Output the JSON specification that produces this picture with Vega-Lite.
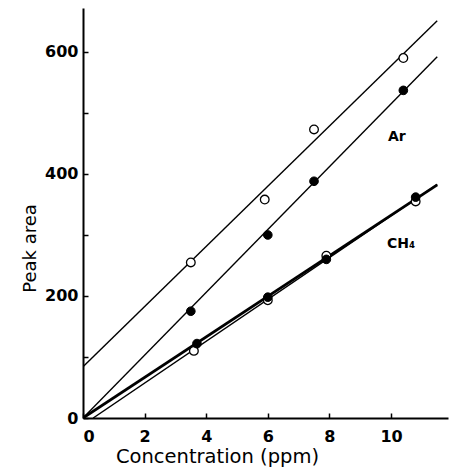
{
  "$schema": "https://vega.github.io/schema/vega-lite/v6.json",
  "width": 365,
  "height": 410,
  "autosize": {"type": "none"},
  "padding": {"left": 83, "top": 8, "right": 1, "bottom": 55},
  "background": "white",
  "config": {
    "view": {"stroke": null},
    "font": "DejaVu Sans",
    "axis": {
      "domainColor": "black",
      "domainWidth": 2,
      "tickColor": "black",
      "tickWidth": 1.5,
      "tickSize": 5,
      "grid": false,
      "labelFont": "DejaVu Sans",
      "labelFontWeight": "bold",
      "labelFontSize": 16,
      "labelColor": "black",
      "titleFont": "DejaVu Sans",
      "titleFontWeight": "normal",
      "titleFontSize": 18,
      "titleColor": "black"
    }
  },
  "resolve": {"axis": {"x": "independent", "y": "independent"}},
  "datasets": {
    "lines": [
      {"series": "Ar open", "x": 0, "y": 84},
      {"series": "Ar open", "x": 11.5, "y": 651},
      {"series": "Ar filled", "x": 0, "y": 0},
      {"series": "Ar filled", "x": 11.5, "y": 592},
      {"series": "CH4 open", "x": 0.33, "y": 0},
      {"series": "CH4 open", "x": 11.5, "y": 383},
      {"series": "CH4 filled", "x": 0, "y": 0},
      {"series": "CH4 filled", "x": 11.5, "y": 382}
    ],
    "points": [
      {"series": "Ar open", "filled": false, "x": 3.5, "y": 255},
      {"series": "Ar open", "filled": false, "x": 5.9, "y": 358},
      {"series": "Ar open", "filled": false, "x": 7.5, "y": 473},
      {"series": "Ar open", "filled": false, "x": 10.4, "y": 590},
      {"series": "Ar filled", "filled": true, "x": 3.5, "y": 175},
      {"series": "Ar filled", "filled": true, "x": 6.0, "y": 300},
      {"series": "Ar filled", "filled": true, "x": 7.5, "y": 388},
      {"series": "Ar filled", "filled": true, "x": 10.4, "y": 537},
      {"series": "CH4 open", "filled": false, "x": 3.6, "y": 110},
      {"series": "CH4 open", "filled": false, "x": 6.0, "y": 193},
      {"series": "CH4 open", "filled": false, "x": 7.9, "y": 266},
      {"series": "CH4 open", "filled": false, "x": 10.8, "y": 355},
      {"series": "CH4 filled", "filled": true, "x": 3.7, "y": 122},
      {"series": "CH4 filled", "filled": true, "x": 6.0, "y": 198},
      {"series": "CH4 filled", "filled": true, "x": 7.9, "y": 260},
      {"series": "CH4 filled", "filled": true, "x": 10.8, "y": 362}
    ],
    "labels": [
      {"label": "Ar", "x": 9.9, "y": 461},
      {"label": "CH₄", "x": 9.87, "y": 285}
    ]
  },
  "layer": [
    {
      "data": {"name": "lines"},
      "transform": [{"filter": "datum.series != 'CH4 filled'"}],
      "mark": {"type": "line", "color": "black", "strokeWidth": 1.4, "clip": true},
      "encoding": {
        "x": {
          "field": "x",
          "type": "quantitative",
          "scale": {"domain": [0, 11.85], "nice": false, "zero": false},
          "axis": {
            "orient": "bottom",
            "title": "Concentration (ppm)",
            "values": [0, 2, 4, 6, 8, 10],
            "ticks": false,
            "labelPadding": 10,
            "titleX": 134,
            "titleY": 38,
            "titleFontSize": 19.5,
            "titleBaseline": "middle",
            "titleAlign": "center"
          }
        },
        "y": {
          "field": "y",
          "type": "quantitative",
          "scale": {"domain": [0, 672], "nice": false},
          "axis": {
            "orient": "left",
            "title": "Peak area",
            "values": [0, 200, 400, 600],
            "ticks": false,
            "labelPadding": 5,
            "titleX": -53,
            "titleY": 240,
            "titleBaseline": "middle",
            "titleAlign": "center",
            "titleAngle": -90
          }
        },
        "detail": {"field": "series", "type": "nominal"}
      }
    },
    {
      "data": {"name": "lines"},
      "transform": [{"filter": "datum.series == 'CH4 filled'"}],
      "mark": {"type": "line", "color": "black", "strokeWidth": 2.8, "clip": true},
      "encoding": {
        "x": {
          "field": "x",
          "type": "quantitative",
          "axis": {
            "orient": "top",
            "offset": -410,
            "values": [0, 2, 4, 6, 8, 10],
            "labels": false,
            "domain": false,
            "title": null,
            "ticks": true
          }
        },
        "y": {
          "field": "y",
          "type": "quantitative",
          "axis": {
            "orient": "right",
            "offset": -365,
            "values": [0, 100, 200, 300, 400, 500, 600],
            "labels": false,
            "domain": false,
            "title": null,
            "ticks": true
          }
        },
        "detail": {"field": "series", "type": "nominal"}
      }
    },
    {
      "data": {"name": "points"},
      "transform": [{"filter": "!datum.filled"}],
      "mark": {"type": "point", "shape": "circle", "filled": true, "fill": "white", "stroke": "black", "strokeWidth": 1.3, "size": 75, "opacity": 1},
      "encoding": {
        "x": {"field": "x", "type": "quantitative", "axis": null},
        "y": {"field": "y", "type": "quantitative", "axis": null}
      }
    },
    {
      "data": {"name": "points"},
      "transform": [{"filter": "datum.filled"}],
      "mark": {"type": "point", "shape": "circle", "filled": true, "fill": "black", "stroke": "black", "strokeWidth": 1, "size": 75, "opacity": 1},
      "encoding": {
        "x": {"field": "x", "type": "quantitative", "axis": null},
        "y": {"field": "y", "type": "quantitative", "axis": null}
      }
    },
    {
      "data": {"name": "labels"},
      "mark": {"type": "text", "align": "left", "baseline": "middle", "font": "DejaVu Sans", "fontWeight": "bold", "fontSize": 14, "color": "black"},
      "encoding": {
        "x": {"field": "x", "type": "quantitative", "axis": null},
        "y": {"field": "y", "type": "quantitative", "axis": null},
        "text": {"field": "label", "type": "nominal"}
      }
    }
  ]
}
